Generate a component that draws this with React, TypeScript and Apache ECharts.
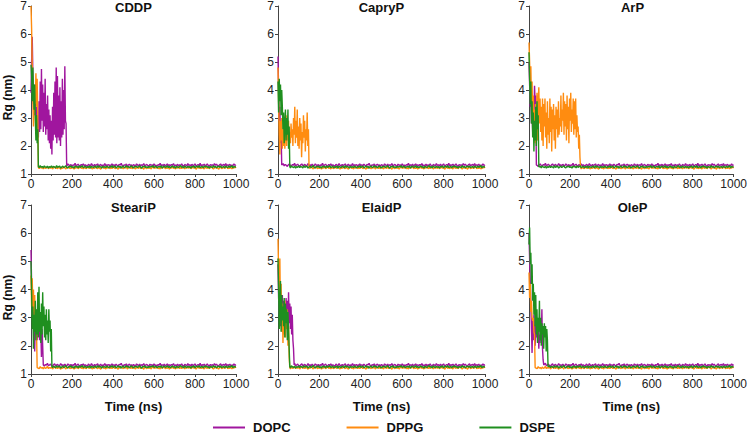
import { useEffect, useRef } from 'react';
import * as echarts from 'echarts';

// Panels (peptide systems) and lipid species
const PANEL_TITLES = ['CDDP', 'CapryP', 'ArP', 'SteariP', 'ElaidP', 'OleP'];
const LIPIDS = ['DOPC', 'DPPG', 'DSPE'];
const LIPID_COLORS = ['#a0169e', '#ff8c10', '#1f8f1f'];

// Time axis (ns) and Rg axis (nm)
const X_MIN = 0;
const X_MAX = 1000;
const X_INTERVAL = 200;
const Y_MIN = 1;
const Y_MAX = 7;
const Y_INTERVAL = 1;

// Early trajectory sampled every 3 ns, equilibrated part every 5 ns
const TRANSIENT_STEP = 3;
const PLATEAU_STEP = 5;

// Equilibrated Rg after aggregation (t = 0, 5, ..., 1000 ns)
const PLATEAU_DOPC = [
  1.31, 1.35, 1.28, 1.33, 1.30, 1.37, 1.29, 1.34, 1.31, 1.27,
  1.33, 1.36, 1.30, 1.28, 1.34, 1.31, 1.38, 1.29, 1.32, 1.35,
  1.30, 1.27, 1.33, 1.36, 1.29, 1.32, 1.34, 1.28, 1.31, 1.37,
  1.30, 1.33, 1.28, 1.35, 1.31, 1.29, 1.36, 1.32, 1.30, 1.34,
  1.27, 1.33, 1.31, 1.38, 1.29, 1.32, 1.35, 1.30, 1.28, 1.34,
  1.31, 1.36, 1.29, 1.33, 1.30, 1.27, 1.35, 1.32, 1.29, 1.37,
  1.31, 1.28, 1.34, 1.30, 1.33, 1.36, 1.29, 1.31, 1.35, 1.28,
  1.32, 1.30, 1.37, 1.29, 1.33, 1.31, 1.34, 1.27, 1.32, 1.36,
  1.30, 1.33, 1.29, 1.35, 1.31, 1.28, 1.34, 1.32, 1.38, 1.30,
  1.29, 1.33, 1.31, 1.36, 1.28, 1.32, 1.35, 1.30, 1.33, 1.27,
  1.34, 1.31, 1.29, 1.36, 1.32, 1.30, 1.35, 1.28, 1.33, 1.31,
  1.37, 1.29, 1.32, 1.34, 1.30, 1.28, 1.35, 1.31, 1.33, 1.29,
  1.36, 1.30, 1.32, 1.27, 1.34, 1.31, 1.38, 1.29, 1.33, 1.30,
  1.35, 1.28, 1.32, 1.36, 1.30, 1.33, 1.29, 1.34, 1.31, 1.37,
  1.29, 1.32, 1.30, 1.35, 1.28, 1.33, 1.31, 1.36, 1.30, 1.27,
  1.34, 1.32, 1.29, 1.37, 1.31, 1.33, 1.28, 1.35, 1.30, 1.32,
  1.36, 1.29, 1.31, 1.34, 1.30, 1.38, 1.28, 1.33, 1.31, 1.35,
  1.29, 1.32, 1.36, 1.30, 1.27, 1.34, 1.31, 1.33, 1.29, 1.37,
  1.31, 1.35, 1.30, 1.28, 1.33, 1.36, 1.29, 1.32, 1.34, 1.30,
  1.37, 1.29, 1.33, 1.31, 1.35, 1.28, 1.32, 1.30, 1.36, 1.31,
  1.33,
];
const PLATEAU_DPPG = [
  1.22, 1.18, 1.25, 1.20, 1.23, 1.17, 1.24, 1.21, 1.19, 1.26,
  1.21, 1.23, 1.18, 1.25, 1.20, 1.22, 1.27, 1.19, 1.23, 1.21,
  1.24, 1.18, 1.22, 1.26, 1.20, 1.23, 1.19, 1.25, 1.21, 1.17,
  1.23, 1.20, 1.25, 1.22, 1.18, 1.24, 1.21, 1.26, 1.19, 1.22,
  1.20, 1.24, 1.17, 1.23, 1.21, 1.25, 1.19, 1.22, 1.26, 1.20,
  1.23, 1.18, 1.24, 1.21, 1.19, 1.25, 1.22, 1.20, 1.27, 1.21,
  1.18, 1.23, 1.20, 1.25, 1.22, 1.19, 1.24, 1.21, 1.17, 1.23,
  1.26, 1.20, 1.22, 1.18, 1.24, 1.21, 1.25, 1.19, 1.23, 1.20,
  1.22, 1.26, 1.19, 1.23, 1.21, 1.17, 1.24, 1.20, 1.25, 1.22,
  1.19, 1.23, 1.21, 1.26, 1.18, 1.22, 1.24, 1.20, 1.23, 1.19,
  1.25, 1.21, 1.18, 1.24, 1.22, 1.20, 1.27, 1.19, 1.23, 1.21,
  1.17, 1.24, 1.22, 1.19, 1.25, 1.20, 1.23, 1.18, 1.22, 1.26,
  1.20, 1.23, 1.21, 1.25, 1.19, 1.22, 1.18, 1.24, 1.21, 1.23,
  1.26, 1.19, 1.22, 1.20, 1.24, 1.17, 1.23, 1.21, 1.25, 1.20,
  1.22, 1.18, 1.24, 1.21, 1.26, 1.19, 1.23, 1.20, 1.22, 1.25,
  1.18, 1.23, 1.21, 1.24, 1.20, 1.27, 1.19, 1.22, 1.24, 1.21,
  1.23, 1.17, 1.22, 1.25, 1.20, 1.23, 1.19, 1.24, 1.21, 1.18,
  1.25, 1.22, 1.20, 1.24, 1.19, 1.23, 1.26, 1.21, 1.18, 1.22,
  1.24, 1.20, 1.23, 1.17, 1.22, 1.25, 1.19, 1.21, 1.24, 1.20,
  1.23, 1.26, 1.19, 1.22, 1.20, 1.24, 1.18, 1.23, 1.21, 1.25,
  1.22,
];
const PLATEAU_DSPE = [
  1.26, 1.22, 1.29, 1.24, 1.28, 1.21, 1.27, 1.25, 1.23, 1.30,
  1.24, 1.27, 1.22, 1.29, 1.25, 1.23, 1.28, 1.21, 1.26, 1.24,
  1.29, 1.23, 1.27, 1.25, 1.22, 1.30, 1.24, 1.26, 1.28, 1.21,
  1.25, 1.28, 1.23, 1.26, 1.30, 1.24, 1.22, 1.27, 1.25, 1.29,
  1.23, 1.26, 1.21, 1.28, 1.25, 1.27, 1.22, 1.29, 1.24, 1.26,
  1.30, 1.23, 1.25, 1.28, 1.22, 1.26, 1.24, 1.29, 1.21, 1.27,
  1.25, 1.23, 1.28, 1.26, 1.22, 1.30, 1.24, 1.27, 1.25, 1.21,
  1.28, 1.24, 1.26, 1.23, 1.29, 1.25, 1.22, 1.27, 1.24, 1.30,
  1.23, 1.26, 1.28, 1.22, 1.25, 1.29, 1.24, 1.27, 1.21, 1.26,
  1.28, 1.23, 1.25, 1.30, 1.24, 1.27, 1.22, 1.26, 1.29, 1.24,
  1.22, 1.27, 1.25, 1.28, 1.23, 1.26, 1.30, 1.24, 1.21, 1.27,
  1.25, 1.29, 1.23, 1.26, 1.22, 1.28, 1.24, 1.27, 1.25, 1.30,
  1.23, 1.26, 1.28, 1.22, 1.25, 1.27, 1.24, 1.29, 1.21, 1.26,
  1.28, 1.24, 1.25, 1.30, 1.23, 1.27, 1.22, 1.26, 1.29, 1.24,
  1.26, 1.21, 1.28, 1.25, 1.23, 1.27, 1.30, 1.24, 1.26, 1.22,
  1.29, 1.25, 1.23, 1.28, 1.24, 1.26, 1.21, 1.27, 1.25, 1.29,
  1.22, 1.26, 1.28, 1.24, 1.30, 1.23, 1.25, 1.27, 1.22, 1.28,
  1.25, 1.29, 1.24, 1.26, 1.21, 1.27, 1.25, 1.23, 1.30, 1.24,
  1.27, 1.22, 1.26, 1.28, 1.24, 1.29, 1.23, 1.25, 1.27, 1.22,
  1.28, 1.25, 1.23, 1.29, 1.24, 1.26, 1.30, 1.22, 1.27, 1.25,
  1.26,
];

// Early trajectories (t = 0, 3, 6, ... ns) up to the collapse
const CDDP_DOPC = [
  3.9, 5.0, 5.9, 4.6, 3.5, 4.2, 3.1, 3.8, 2.6, 3.4,
  2.4, 3.0, 2.3, 3.6, 2.5, 4.3, 2.6, 4.75, 2.9, 4.2,
  2.5, 3.9, 2.7, 4.4, 2.4, 3.5, 2.6, 3.8, 2.2, 3.3,
  2.1, 3.1, 1.9, 2.9, 1.7, 3.4, 2.2, 3.9, 2.4, 4.3,
  2.3, 4.8, 2.1, 4.5, 2.3, 3.8, 2.2, 4.1, 2.0, 3.6,
  2.3, 4.4, 2.4, 4.0, 2.6, 4.85, 2.9, 2.8, 1.32,
];
const CDDP_DPPG = [7.0, 6.2, 4.8, 3.6, 2.7, 3.3, 4.0, 3.5, 4.6, 3.4, 4.4, 3.0, 1.23];
const CDDP_DSPE = [4.9, 4.5, 3.6, 4.8, 3.9, 3.3, 4.2, 3.0, 2.2, 3.1, 2.1, 2.6, 1.26];

const CAPRYP_DOPC = [5.2, 4.0, 2.9, 3.4, 2.1, 2.5, 1.32];
const CAPRYP_DPPG = [
  4.8, 3.6, 2.4, 1.7, 2.9, 2.2, 3.0, 1.9, 2.6, 2.0,
  2.8, 1.9, 2.4, 3.1, 2.0, 2.7, 2.2, 2.9, 1.9, 2.5,
  2.1, 2.8, 2.3, 2.6, 2.0, 3.0, 2.4, 3.4, 2.1, 2.9,
  2.3, 3.3, 2.0, 2.7, 1.9, 3.0, 2.2, 2.8, 1.6, 2.5,
  2.1, 3.1, 2.3, 2.9, 1.8, 2.6, 2.2, 3.2, 2.0, 2.6,
  1.23,
];
const CAPRYP_DSPE = [
  4.3, 3.2, 4.4, 3.6, 4.2, 3.1, 4.0, 3.4, 2.6, 3.2,
  2.1, 2.8, 3.3, 2.2, 3.0, 2.4, 3.3, 1.9, 2.7, 1.26,
];

const ARP_DOPC = [5.0, 4.2, 3.4, 3.9, 2.8, 3.3, 2.5, 3.6, 2.9, 4.15, 3.5, 3.8, 1.32];
const ARP_DPPG = [
  5.7, 5.0, 4.2, 4.85, 3.6, 4.3, 3.0, 3.8, 2.4, 3.3,
  2.1, 3.5, 2.6, 3.9, 2.2, 3.6, 4.1, 2.8, 3.7, 2.5,
  3.4, 2.2, 3.7, 2.0, 3.5, 2.7, 3.7, 2.3, 3.2, 1.9,
  3.6, 2.4, 3.0, 2.1, 3.7, 2.5, 3.4, 1.8, 3.3, 2.6,
  3.5, 2.2, 3.1, 1.9, 3.4, 2.6, 3.3, 2.3, 3.6, 2.4,
  3.0, 2.7, 3.8, 2.5, 3.3, 2.9, 3.9, 2.4, 3.6, 2.7,
  3.5, 2.2, 3.8, 2.6, 3.4, 2.1, 3.7, 2.9, 3.9, 2.5,
  3.3, 2.8, 3.7, 2.4, 3.6, 2.6, 3.7, 2.3, 3.1, 2.5,
  2.7, 1.9, 2.4, 1.6, 1.23,
];
const ARP_DSPE = [5.35, 4.4, 3.5, 4.3, 2.8, 3.6, 2.3, 3.2, 1.8, 2.9, 2.2, 3.4, 2.0, 3.6, 2.6, 3.1, 1.26];

const STEARIP_DOPC = [
  5.4, 4.2, 3.1, 3.6, 2.7, 3.3, 1.8, 2.9, 2.4, 3.1,
  2.2, 2.8, 2.4, 3.0, 2.2, 2.9, 2.5, 1.6, 2.6, 2.0, 1.32,
];
const STEARIP_DPPG = [4.5, 3.4, 4.4, 3.2, 4.0, 2.9, 3.8, 2.6, 3.3, 2.5, 1.23];
const STEARIP_DSPE = [
  5.0, 3.9, 2.6, 3.4, 1.9, 3.1, 2.5, 3.6, 2.2, 3.3,
  2.4, 3.9, 2.3, 4.1, 2.5, 3.2, 2.1, 3.5, 2.4, 3.9,
  2.7, 3.4, 2.3, 3.1, 2.2, 3.3, 2.4, 2.9, 2.1, 3.3,
  2.5, 2.9, 1.8, 2.6, 1.26,
];

const ELAIDP_DOPC = [
  4.9, 3.7, 3.1, 3.9, 2.7, 3.5, 2.9, 3.8, 2.8, 3.6,
  3.0, 3.4, 2.7, 3.7, 2.9, 3.6, 2.7, 3.9, 2.8, 3.5,
  2.6, 3.4, 2.4, 3.1, 2.2, 1.9, 1.32,
];
const ELAIDP_DPPG = [
  5.8, 4.6, 3.6, 5.1, 3.1, 4.2, 2.5, 3.5, 2.1, 3.2,
  2.4, 3.6, 2.3, 3.0, 2.6, 3.3, 2.0, 2.7, 1.6, 1.23,
];
const ELAIDP_DSPE = [
  5.1, 4.0, 2.6, 3.6, 4.3, 2.5, 3.8, 2.9, 3.4, 2.7,
  3.7, 2.3, 3.5, 2.8, 3.3, 2.2, 3.2, 2.6, 1.9, 1.26,
];

const OLEP_DOPC = [
  6.0, 5.1, 4.3, 3.5, 2.6, 1.75, 2.9, 2.2, 3.1, 2.4,
  2.0, 2.8, 2.3, 3.0, 2.1, 2.6, 1.9, 2.4, 2.1, 2.8,
  2.2, 3.3, 1.9, 1.5, 1.32,
];
const OLEP_DPPG = [4.6, 3.7, 4.2, 3.2, 3.6, 3.0, 2.9, 3.0, 2.5, 2.4, 1.23];
const OLEP_DSPE = [
  5.6, 6.2, 4.9, 5.3, 4.2, 4.9, 3.6, 4.2, 3.1, 3.9,
  2.7, 3.8, 2.4, 3.3, 2.1, 3.0, 2.5, 3.6, 2.2, 3.0,
  2.0, 2.8, 2.4, 2.7, 1.9, 2.8, 2.3, 2.7, 1.8, 2.6,
  2.2, 1.26,
];

// Per panel: [DOPC, DPPG, DSPE] early trajectories
const PANEL_TRANSIENTS = [
  [CDDP_DOPC, CDDP_DPPG, CDDP_DSPE],
  [CAPRYP_DOPC, CAPRYP_DPPG, CAPRYP_DSPE],
  [ARP_DOPC, ARP_DPPG, ARP_DSPE],
  [STEARIP_DOPC, STEARIP_DPPG, STEARIP_DSPE],
  [ELAIDP_DOPC, ELAIDP_DPPG, ELAIDP_DSPE],
  [OLEP_DOPC, OLEP_DPPG, OLEP_DSPE],
];
const PLATEAUS = [PLATEAU_DOPC, PLATEAU_DPPG, PLATEAU_DSPE];

// Plot-area layout (px)
const COL_LEFT = [31, 278, 529];
const COL_WIDTH = [205, 207, 207];
const ROW_TOP = [5, 205];
const ROW_HEIGHT = 169;

const FONT = '"Liberation Sans", Arial, Helvetica, sans-serif';
const AXIS_COLOR = '#444';
const TEXT_COLOR = '#222';

function buildTrace(transient: number[], plateau: number[]): number[][] {
  const pts: number[][] = transient.map((v, i) => [i * TRANSIENT_STEP, v]);
  const last = (transient.length - 1) * TRANSIENT_STEP;
  plateau.forEach((v, i) => {
    const t = i * PLATEAU_STEP;
    if (t > last) pts.push([t, v]);
  });
  return pts;
}

export default function App() {
  const ref = useRef<HTMLDivElement>(null);

  useEffect(() => {
    document.body.style.margin = '0';
    if (!ref.current) return;
    const chart = echarts.init(ref.current, undefined, { renderer: 'svg' });

    const grids: any[] = [];
    const xAxes: any[] = [];
    const yAxes: any[] = [];
    const titles: any[] = [];
    const series: any[] = [];
    const graphics: any[] = [];

    PANEL_TITLES.forEach((name, p) => {
      const row = Math.floor(p / 3);
      const col = p % 3;
      const left = COL_LEFT[col];
      const width = COL_WIDTH[col];
      const top = ROW_TOP[row];
      grids.push({ left, top, width, height: ROW_HEIGHT, containLabel: false });

      titles.push({
        text: name,
        left: left + width / 2,
        top: top - 4,
        textAlign: 'center',
        padding: 0,
        textStyle: { fontFamily: FONT, fontSize: 13, fontWeight: 'bold', color: '#111' },
      });

      xAxes.push({
        type: 'value',
        gridIndex: p,
        min: X_MIN,
        max: X_MAX,
        interval: X_INTERVAL,
        name: row === 1 ? 'Time (ns)' : '',
        nameLocation: 'middle',
        nameGap: 26,
        nameTextStyle: { fontFamily: FONT, fontSize: 13, fontWeight: 'bold', color: '#111' },
        axisLine: { show: true, lineStyle: { color: AXIS_COLOR, width: 1 } },
        axisTick: { show: true, length: 3, lineStyle: { color: AXIS_COLOR } },
        minorTick: { show: true, splitNumber: 2, length: 2, lineStyle: { color: AXIS_COLOR } },
        splitLine: { show: false },
        axisLabel: {
          fontFamily: FONT,
          fontSize: 12,
          color: TEXT_COLOR,
          margin: 4,
          formatter: (v: number) => String(v),
        },
      });

      yAxes.push({
        type: 'value',
        gridIndex: p,
        min: Y_MIN,
        max: Y_MAX,
        interval: Y_INTERVAL,
        axisLine: { show: true, lineStyle: { color: AXIS_COLOR, width: 1 } },
        axisTick: { show: true, length: 3, lineStyle: { color: AXIS_COLOR } },
        splitLine: { show: false },
        axisLabel: { fontFamily: FONT, fontSize: 12, color: TEXT_COLOR, margin: 4 },
      });

      if (col === 0) {
        graphics.push({
          type: 'text',
          x: 8,
          y: top + ROW_HEIGHT / 2 + 8,
          rotation: Math.PI / 2,
          style: {
            text: 'Rg (nm)',
            fill: '#111',
            font: `bold 12px ${FONT}`,
            align: 'center',
            verticalAlign: 'middle',
          },
        });
      }

      LIPIDS.forEach((lipid, k) => {
        series.push({
          type: 'line',
          name: lipid,
          xAxisIndex: p,
          yAxisIndex: p,
          data: buildTrace(PANEL_TRANSIENTS[p][k], PLATEAUS[k]),
          showSymbol: false,
          symbol: 'none',
          color: LIPID_COLORS[k],
          lineStyle: { width: 1.4, color: LIPID_COLORS[k] },
          z: 2 + k,
        });
      });
    });

    chart.setOption({
      animation: false,
      backgroundColor: '#ffffff',
      title: titles,
      grid: grids,
      xAxis: xAxes,
      yAxis: yAxes,
      series,
      graphic: graphics,
      legend: {
        data: LIPIDS,
        left: 213,
        top: 421,
        padding: 0,
        icon: 'rect',
        itemWidth: 32,
        itemHeight: 2,
        itemGap: 56,
        textStyle: {
          fontFamily: FONT,
          fontSize: 13,
          fontWeight: 'bold',
          color: '#111',
          padding: [0, 0, 0, 3],
        },
      },
    });

    return () => chart.dispose();
  }, []);

  return <div ref={ref} style={{ width: 750, height: 435 }} />;
}
